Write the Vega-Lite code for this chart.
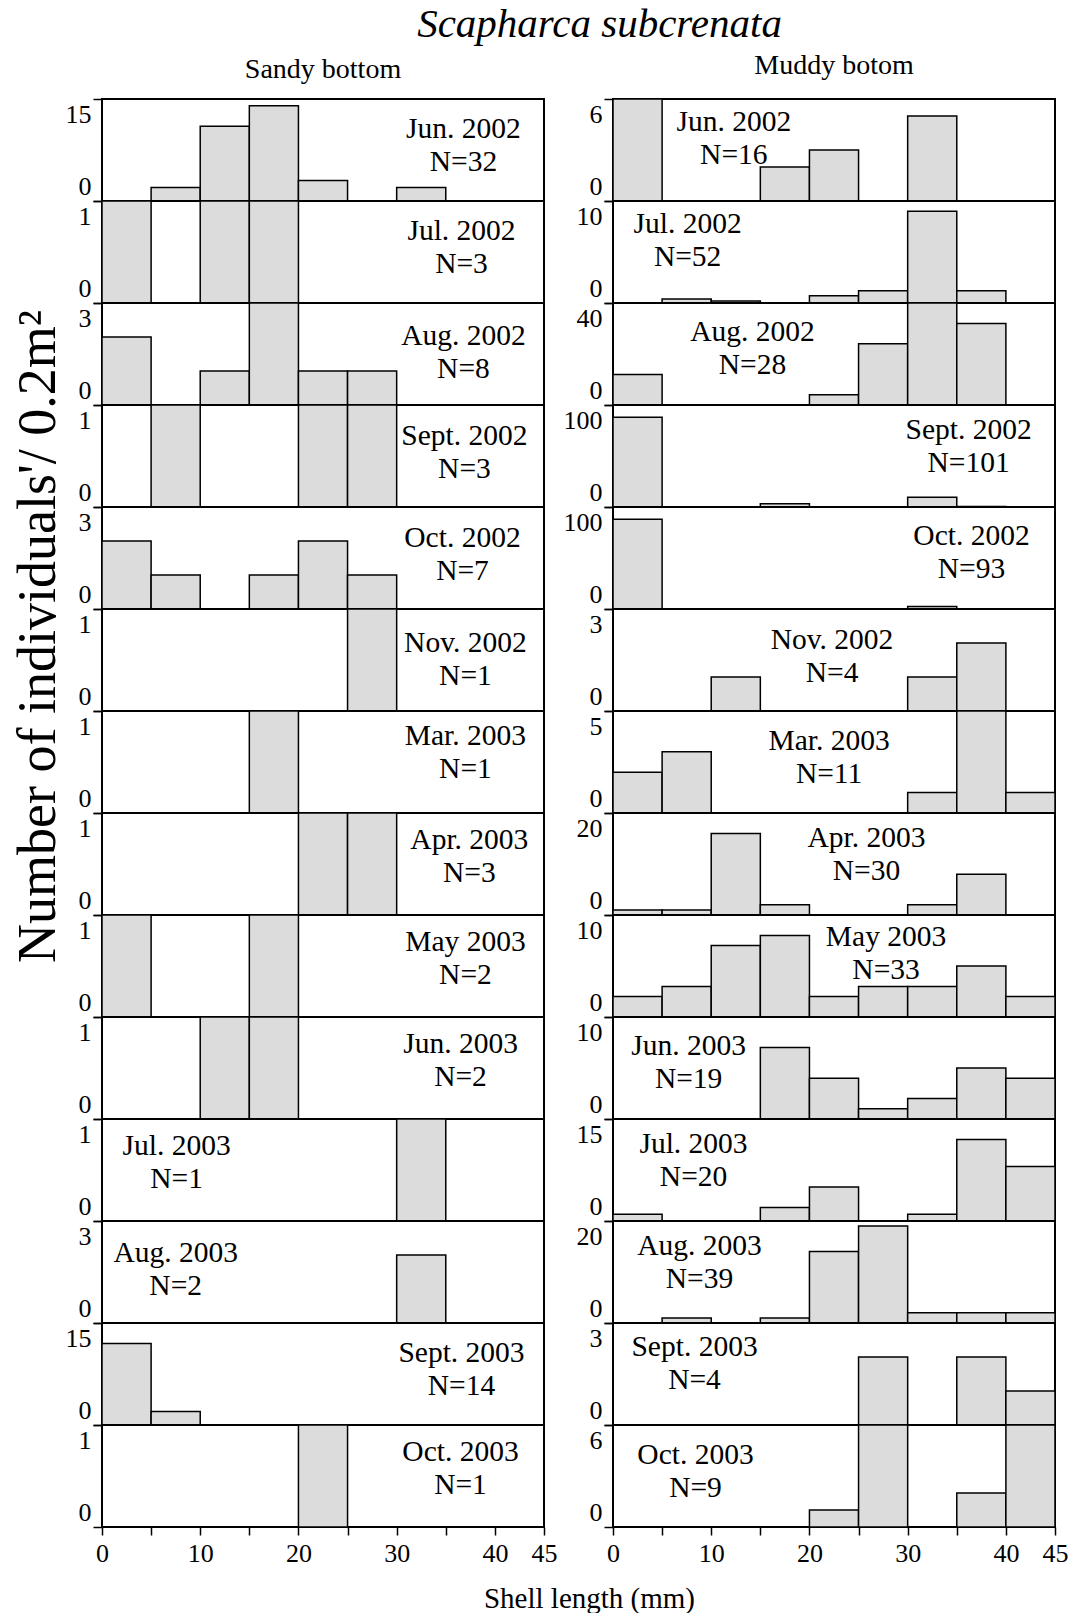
{
"$schema": "https://vega.github.io/schema/vega-lite/v6.json",
"padding": {"left": 9, "top": 4, "right": 5, "bottom": 0},
"title": {"text": "Scapharca subcrenata", "font": "Liberation Serif", "fontStyle": "italic", "fontWeight": "normal", "fontSize": 41, "color": "black", "frame": "bounds", "anchor": "middle", "offset": 5, "dx": 60},
"datasets": {
"bars": [
{"c":"Sandy","m":"Jun. 2002","s":5,"e":10,"v":2},{"c":"Sandy","m":"Jun. 2002","s":10,"e":15,"v":11},{"c":"Sandy","m":"Jun. 2002","s":15,"e":20,"v":14},{"c":"Sandy","m":"Jun. 2002","s":20,"e":25,"v":3},{"c":"Sandy","m":"Jun. 2002","s":30,"e":35,"v":2},
{"c":"Sandy","m":"Jul. 2002","s":0,"e":5,"v":1},{"c":"Sandy","m":"Jul. 2002","s":10,"e":15,"v":1},{"c":"Sandy","m":"Jul. 2002","s":15,"e":20,"v":1},
{"c":"Sandy","m":"Aug. 2002","s":0,"e":5,"v":2},{"c":"Sandy","m":"Aug. 2002","s":10,"e":15,"v":1},{"c":"Sandy","m":"Aug. 2002","s":15,"e":20,"v":3},{"c":"Sandy","m":"Aug. 2002","s":20,"e":25,"v":1},{"c":"Sandy","m":"Aug. 2002","s":25,"e":30,"v":1},
{"c":"Sandy","m":"Sept. 2002","s":5,"e":10,"v":1},{"c":"Sandy","m":"Sept. 2002","s":20,"e":25,"v":1},{"c":"Sandy","m":"Sept. 2002","s":25,"e":30,"v":1},
{"c":"Sandy","m":"Oct. 2002","s":0,"e":5,"v":2},{"c":"Sandy","m":"Oct. 2002","s":5,"e":10,"v":1},{"c":"Sandy","m":"Oct. 2002","s":15,"e":20,"v":1},{"c":"Sandy","m":"Oct. 2002","s":20,"e":25,"v":2},{"c":"Sandy","m":"Oct. 2002","s":25,"e":30,"v":1},
{"c":"Sandy","m":"Nov. 2002","s":25,"e":30,"v":1},
{"c":"Sandy","m":"Mar. 2003","s":15,"e":20,"v":1},
{"c":"Sandy","m":"Apr. 2003","s":20,"e":25,"v":1},{"c":"Sandy","m":"Apr. 2003","s":25,"e":30,"v":1},
{"c":"Sandy","m":"May 2003","s":0,"e":5,"v":1},{"c":"Sandy","m":"May 2003","s":15,"e":20,"v":1},
{"c":"Sandy","m":"Jun. 2003","s":10,"e":15,"v":1},{"c":"Sandy","m":"Jun. 2003","s":15,"e":20,"v":1},
{"c":"Sandy","m":"Jul. 2003","s":30,"e":35,"v":1},
{"c":"Sandy","m":"Aug. 2003","s":30,"e":35,"v":2},
{"c":"Sandy","m":"Sept. 2003","s":0,"e":5,"v":12},{"c":"Sandy","m":"Sept. 2003","s":5,"e":10,"v":2},
{"c":"Sandy","m":"Oct. 2003","s":20,"e":25,"v":1},
{"c":"Muddy","m":"Jun. 2002","s":0,"e":5,"v":6},{"c":"Muddy","m":"Jun. 2002","s":15,"e":20,"v":2},{"c":"Muddy","m":"Jun. 2002","s":20,"e":25,"v":3},{"c":"Muddy","m":"Jun. 2002","s":30,"e":35,"v":5},
{"c":"Muddy","m":"Jul. 2002","s":5,"e":10,"v":0.4},{"c":"Muddy","m":"Jul. 2002","s":10,"e":15,"v":0.2},{"c":"Muddy","m":"Jul. 2002","s":20,"e":25,"v":0.7},{"c":"Muddy","m":"Jul. 2002","s":25,"e":30,"v":1.2},{"c":"Muddy","m":"Jul. 2002","s":30,"e":35,"v":9},{"c":"Muddy","m":"Jul. 2002","s":35,"e":40,"v":1.2},
{"c":"Muddy","m":"Aug. 2002","s":0,"e":5,"v":12},{"c":"Muddy","m":"Aug. 2002","s":20,"e":25,"v":4},{"c":"Muddy","m":"Aug. 2002","s":25,"e":30,"v":24},{"c":"Muddy","m":"Aug. 2002","s":30,"e":35,"v":40},{"c":"Muddy","m":"Aug. 2002","s":35,"e":40,"v":32},
{"c":"Muddy","m":"Sept. 2002","s":0,"e":5,"v":88},{"c":"Muddy","m":"Sept. 2002","s":15,"e":20,"v":3.2},{"c":"Muddy","m":"Sept. 2002","s":30,"e":35,"v":9.5},{"c":"Muddy","m":"Sept. 2002","s":35,"e":40,"v":0.5},
{"c":"Muddy","m":"Oct. 2002","s":0,"e":5,"v":88},{"c":"Muddy","m":"Oct. 2002","s":30,"e":35,"v":2.5},
{"c":"Muddy","m":"Nov. 2002","s":10,"e":15,"v":1},{"c":"Muddy","m":"Nov. 2002","s":30,"e":35,"v":1},{"c":"Muddy","m":"Nov. 2002","s":35,"e":40,"v":2},
{"c":"Muddy","m":"Mar. 2003","s":0,"e":5,"v":2},{"c":"Muddy","m":"Mar. 2003","s":5,"e":10,"v":3},{"c":"Muddy","m":"Mar. 2003","s":30,"e":35,"v":1},{"c":"Muddy","m":"Mar. 2003","s":35,"e":40,"v":5},{"c":"Muddy","m":"Mar. 2003","s":40,"e":45,"v":1},
{"c":"Muddy","m":"Apr. 2003","s":0,"e":5,"v":1},{"c":"Muddy","m":"Apr. 2003","s":5,"e":10,"v":1},{"c":"Muddy","m":"Apr. 2003","s":10,"e":15,"v":16},{"c":"Muddy","m":"Apr. 2003","s":15,"e":20,"v":2},{"c":"Muddy","m":"Apr. 2003","s":30,"e":35,"v":2},{"c":"Muddy","m":"Apr. 2003","s":35,"e":40,"v":8},
{"c":"Muddy","m":"May 2003","s":0,"e":5,"v":2},{"c":"Muddy","m":"May 2003","s":5,"e":10,"v":3},{"c":"Muddy","m":"May 2003","s":10,"e":15,"v":7},{"c":"Muddy","m":"May 2003","s":15,"e":20,"v":8},{"c":"Muddy","m":"May 2003","s":20,"e":25,"v":2},{"c":"Muddy","m":"May 2003","s":25,"e":30,"v":3},{"c":"Muddy","m":"May 2003","s":30,"e":35,"v":3},{"c":"Muddy","m":"May 2003","s":35,"e":40,"v":5},{"c":"Muddy","m":"May 2003","s":40,"e":45,"v":2},
{"c":"Muddy","m":"Jun. 2003","s":15,"e":20,"v":7},{"c":"Muddy","m":"Jun. 2003","s":20,"e":25,"v":4},{"c":"Muddy","m":"Jun. 2003","s":25,"e":30,"v":1},{"c":"Muddy","m":"Jun. 2003","s":30,"e":35,"v":2},{"c":"Muddy","m":"Jun. 2003","s":35,"e":40,"v":5},{"c":"Muddy","m":"Jun. 2003","s":40,"e":45,"v":4},
{"c":"Muddy","m":"Jul. 2003","s":0,"e":5,"v":1},{"c":"Muddy","m":"Jul. 2003","s":15,"e":20,"v":2},{"c":"Muddy","m":"Jul. 2003","s":20,"e":25,"v":5},{"c":"Muddy","m":"Jul. 2003","s":30,"e":35,"v":1},{"c":"Muddy","m":"Jul. 2003","s":35,"e":40,"v":12},{"c":"Muddy","m":"Jul. 2003","s":40,"e":45,"v":8},
{"c":"Muddy","m":"Aug. 2003","s":5,"e":10,"v":1},{"c":"Muddy","m":"Aug. 2003","s":15,"e":20,"v":1},{"c":"Muddy","m":"Aug. 2003","s":20,"e":25,"v":14},{"c":"Muddy","m":"Aug. 2003","s":25,"e":30,"v":19},{"c":"Muddy","m":"Aug. 2003","s":30,"e":35,"v":2},{"c":"Muddy","m":"Aug. 2003","s":35,"e":40,"v":2},{"c":"Muddy","m":"Aug. 2003","s":40,"e":45,"v":2},
{"c":"Muddy","m":"Sept. 2003","s":25,"e":30,"v":2},{"c":"Muddy","m":"Sept. 2003","s":35,"e":40,"v":2},{"c":"Muddy","m":"Sept. 2003","s":40,"e":45,"v":1},
{"c":"Muddy","m":"Oct. 2003","s":20,"e":25,"v":1},{"c":"Muddy","m":"Oct. 2003","s":25,"e":30,"v":6},{"c":"Muddy","m":"Oct. 2003","s":35,"e":40,"v":2},{"c":"Muddy","m":"Oct. 2003","s":40,"e":45,"v":6}
],
"labels": [
{"c":"Sandy","m":"Jun. 2002","t":["Jun. 2002","N=32"]},{"c":"Sandy","m":"Jul. 2002","t":["Jul. 2002","N=3"]},{"c":"Sandy","m":"Aug. 2002","t":["Aug. 2002","N=8"]},{"c":"Sandy","m":"Sept. 2002","t":["Sept. 2002","N=3"]},{"c":"Sandy","m":"Oct. 2002","t":["Oct. 2002","N=7"]},{"c":"Sandy","m":"Nov. 2002","t":["Nov. 2002","N=1"]},{"c":"Sandy","m":"Mar. 2003","t":["Mar. 2003","N=1"]},{"c":"Sandy","m":"Apr. 2003","t":["Apr. 2003","N=3"]},{"c":"Sandy","m":"May 2003","t":["May 2003","N=2"]},{"c":"Sandy","m":"Jun. 2003","t":["Jun. 2003","N=2"]},{"c":"Sandy","m":"Jul. 2003","t":["Jul. 2003","N=1"]},{"c":"Sandy","m":"Aug. 2003","t":["Aug. 2003","N=2"]},{"c":"Sandy","m":"Sept. 2003","t":["Sept. 2003","N=14"]},{"c":"Sandy","m":"Oct. 2003","t":["Oct. 2003","N=1"]},
{"c":"Muddy","m":"Jun. 2002","t":["Jun. 2002","N=16"]},{"c":"Muddy","m":"Jul. 2002","t":["Jul. 2002","N=52"]},{"c":"Muddy","m":"Aug. 2002","t":["Aug. 2002","N=28"]},{"c":"Muddy","m":"Sept. 2002","t":["Sept. 2002","N=101"]},{"c":"Muddy","m":"Oct. 2002","t":["Oct. 2002","N=93"]},{"c":"Muddy","m":"Nov. 2002","t":["Nov. 2002","N=4"]},{"c":"Muddy","m":"Mar. 2003","t":["Mar. 2003","N=11"]},{"c":"Muddy","m":"Apr. 2003","t":["Apr. 2003","N=30"]},{"c":"Muddy","m":"May 2003","t":["May 2003","N=33"]},{"c":"Muddy","m":"Jun. 2003","t":["Jun. 2003","N=19"]},{"c":"Muddy","m":"Jul. 2003","t":["Jul. 2003","N=20"]},{"c":"Muddy","m":"Aug. 2003","t":["Aug. 2003","N=39"]},{"c":"Muddy","m":"Sept. 2003","t":["Sept. 2003","N=4"]},{"c":"Muddy","m":"Oct. 2003","t":["Oct. 2003","N=9"]}
]
},
"columns": 2,
"spacing": {"row": 0, "column": 69},
"bounds": "flush",
"concat": [
{"title": {"text": "Sandy bottom", "font": "Liberation Serif", "fontSize": 28, "fontWeight": "normal", "color": "black", "offset": 14}, "width": 442, "height": 102, "layer": [
 {"data": {"name": "bars"}, "transform": [{"filter": "datum.c=='Sandy'&&datum.m=='Jun. 2002'"}], "mark": "rect", "encoding": {"x": {"field": "s", "type": "quantitative", "scale": {"domain": [0,45], "nice": false, "zero": false}, "axis": null}, "x2": {"field": "e"}, "y": {"field": "v", "type": "quantitative", "scale": {"domain": [0,15], "nice": false}, "axis": {"values": [0,15], "format": "d", "title": null}}, "y2": {"datum": 0}}},
 {"data": {"name": "labels"}, "transform": [{"filter": "datum.c=='Sandy'&&datum.m=='Jun. 2002'"}], "mark": "text", "encoding": {"x": {"datum": 36.8}, "y": {"datum": 8.16}, "text": {"field": "t"}}}]},
{"title": {"text": "Muddy botom", "font": "Liberation Serif", "fontSize": 28, "fontWeight": "normal", "color": "black", "offset": 18}, "width": 442, "height": 102, "layer": [
 {"data": {"name": "bars"}, "transform": [{"filter": "datum.c=='Muddy'&&datum.m=='Jun. 2002'"}], "mark": "rect", "encoding": {"x": {"field": "s", "type": "quantitative", "scale": {"domain": [0,45], "nice": false, "zero": false}, "axis": null}, "x2": {"field": "e"}, "y": {"field": "v", "type": "quantitative", "scale": {"domain": [0,6], "nice": false}, "axis": {"values": [0,6], "format": "d", "title": null}}, "y2": {"datum": 0}}},
 {"data": {"name": "labels"}, "transform": [{"filter": "datum.c=='Muddy'&&datum.m=='Jun. 2002'"}], "mark": "text", "encoding": {"x": {"datum": 12.3}, "y": {"datum": 3.66}, "text": {"field": "t"}}}]},
{"width": 442, "height": 102, "layer": [
 {"data": {"name": "bars"}, "transform": [{"filter": "datum.c=='Sandy'&&datum.m=='Jul. 2002'"}], "mark": "rect", "encoding": {"x": {"field": "s", "type": "quantitative", "scale": {"domain": [0,45], "nice": false, "zero": false}, "axis": null}, "x2": {"field": "e"}, "y": {"field": "v", "type": "quantitative", "scale": {"domain": [0,1], "nice": false}, "axis": {"values": [0,1], "format": "d", "title": null}}, "y2": {"datum": 0}}},
 {"data": {"name": "labels"}, "transform": [{"filter": "datum.c=='Sandy'&&datum.m=='Jul. 2002'"}], "mark": "text", "encoding": {"x": {"datum": 36.6}, "y": {"datum": 0.543}, "text": {"field": "t"}}}]},
{"width": 442, "height": 102, "layer": [
 {"data": {"name": "bars"}, "transform": [{"filter": "datum.c=='Muddy'&&datum.m=='Jul. 2002'"}], "mark": "rect", "encoding": {"x": {"field": "s", "type": "quantitative", "scale": {"domain": [0,45], "nice": false, "zero": false}, "axis": null}, "x2": {"field": "e"}, "y": {"field": "v", "type": "quantitative", "scale": {"domain": [0,10], "nice": false}, "axis": {"values": [0,10], "format": "d", "title": null}}, "y2": {"datum": 0}}},
 {"data": {"name": "labels"}, "transform": [{"filter": "datum.c=='Muddy'&&datum.m=='Jul. 2002'"}], "mark": "text", "encoding": {"x": {"datum": 7.6}, "y": {"datum": 6.16}, "text": {"field": "t"}}}]},
{"width": 442, "height": 102, "layer": [
 {"data": {"name": "bars"}, "transform": [{"filter": "datum.c=='Sandy'&&datum.m=='Aug. 2002'"}], "mark": "rect", "encoding": {"x": {"field": "s", "type": "quantitative", "scale": {"domain": [0,45], "nice": false, "zero": false}, "axis": null}, "x2": {"field": "e"}, "y": {"field": "v", "type": "quantitative", "scale": {"domain": [0,3], "nice": false}, "axis": {"values": [0,3], "format": "d", "title": null}}, "y2": {"datum": 0}}},
 {"data": {"name": "labels"}, "transform": [{"filter": "datum.c=='Sandy'&&datum.m=='Aug. 2002'"}], "mark": "text", "encoding": {"x": {"datum": 36.8}, "y": {"datum": 1.53}, "text": {"field": "t"}}}]},
{"width": 442, "height": 102, "layer": [
 {"data": {"name": "bars"}, "transform": [{"filter": "datum.c=='Muddy'&&datum.m=='Aug. 2002'"}], "mark": "rect", "encoding": {"x": {"field": "s", "type": "quantitative", "scale": {"domain": [0,45], "nice": false, "zero": false}, "axis": null}, "x2": {"field": "e"}, "y": {"field": "v", "type": "quantitative", "scale": {"domain": [0,40], "nice": false}, "axis": {"values": [0,40], "format": "d", "title": null}}, "y2": {"datum": 0}}},
 {"data": {"name": "labels"}, "transform": [{"filter": "datum.c=='Muddy'&&datum.m=='Aug. 2002'"}], "mark": "text", "encoding": {"x": {"datum": 14.2}, "y": {"datum": 22.1}, "text": {"field": "t"}}}]},
{"width": 442, "height": 102, "layer": [
 {"data": {"name": "bars"}, "transform": [{"filter": "datum.c=='Sandy'&&datum.m=='Sept. 2002'"}], "mark": "rect", "encoding": {"x": {"field": "s", "type": "quantitative", "scale": {"domain": [0,45], "nice": false, "zero": false}, "axis": null}, "x2": {"field": "e"}, "y": {"field": "v", "type": "quantitative", "scale": {"domain": [0,1], "nice": false}, "axis": {"values": [0,1], "format": "d", "title": null}}, "y2": {"datum": 0}}},
 {"data": {"name": "labels"}, "transform": [{"filter": "datum.c=='Sandy'&&datum.m=='Sept. 2002'"}], "mark": "text", "encoding": {"x": {"datum": 36.9}, "y": {"datum": 0.534}, "text": {"field": "t"}}}]},
{"width": 442, "height": 102, "layer": [
 {"data": {"name": "bars"}, "transform": [{"filter": "datum.c=='Muddy'&&datum.m=='Sept. 2002'"}], "mark": "rect", "encoding": {"x": {"field": "s", "type": "quantitative", "scale": {"domain": [0,45], "nice": false, "zero": false}, "axis": null}, "x2": {"field": "e"}, "y": {"field": "v", "type": "quantitative", "scale": {"domain": [0,100], "nice": false}, "axis": {"values": [0,100], "format": "d", "title": null}}, "y2": {"datum": 0}}},
 {"data": {"name": "labels"}, "transform": [{"filter": "datum.c=='Muddy'&&datum.m=='Sept. 2002'"}], "mark": "text", "encoding": {"x": {"datum": 36.2}, "y": {"datum": 59.2}, "text": {"field": "t"}}}]},
{"width": 442, "height": 102, "layer": [
 {"data": {"name": "bars"}, "transform": [{"filter": "datum.c=='Sandy'&&datum.m=='Oct. 2002'"}], "mark": "rect", "encoding": {"x": {"field": "s", "type": "quantitative", "scale": {"domain": [0,45], "nice": false, "zero": false}, "axis": null}, "x2": {"field": "e"}, "y": {"field": "v", "type": "quantitative", "scale": {"domain": [0,3], "nice": false}, "axis": {"values": [0,3], "format": "d", "title": null}}, "y2": {"datum": 0}}},
 {"data": {"name": "labels"}, "transform": [{"filter": "datum.c=='Sandy'&&datum.m=='Oct. 2002'"}], "mark": "text", "encoding": {"x": {"datum": 36.7}, "y": {"datum": 1.6}, "text": {"field": "t"}}}]},
{"width": 442, "height": 102, "layer": [
 {"data": {"name": "bars"}, "transform": [{"filter": "datum.c=='Muddy'&&datum.m=='Oct. 2002'"}], "mark": "rect", "encoding": {"x": {"field": "s", "type": "quantitative", "scale": {"domain": [0,45], "nice": false, "zero": false}, "axis": null}, "x2": {"field": "e"}, "y": {"field": "v", "type": "quantitative", "scale": {"domain": [0,100], "nice": false}, "axis": {"values": [0,100], "format": "d", "title": null}}, "y2": {"datum": 0}}},
 {"data": {"name": "labels"}, "transform": [{"filter": "datum.c=='Muddy'&&datum.m=='Oct. 2002'"}], "mark": "text", "encoding": {"x": {"datum": 36.5}, "y": {"datum": 55}, "text": {"field": "t"}}}]},
{"width": 442, "height": 102, "layer": [
 {"data": {"name": "bars"}, "transform": [{"filter": "datum.c=='Sandy'&&datum.m=='Nov. 2002'"}], "mark": "rect", "encoding": {"x": {"field": "s", "type": "quantitative", "scale": {"domain": [0,45], "nice": false, "zero": false}, "axis": null}, "x2": {"field": "e"}, "y": {"field": "v", "type": "quantitative", "scale": {"domain": [0,1], "nice": false}, "axis": {"values": [0,1], "format": "d", "title": "Number of individuals'/ 0.2m²", "titleFontSize": 54, "titleAngle": 270, "titleAlign": "center", "titleBaseline": "middle", "titleX": -64, "titleY": 27}}, "y2": {"datum": 0}}},
 {"data": {"name": "labels"}, "transform": [{"filter": "datum.c=='Sandy'&&datum.m=='Nov. 2002'"}], "mark": "text", "encoding": {"x": {"datum": 37}, "y": {"datum": 0.505}, "text": {"field": "t"}}}]},
{"width": 442, "height": 102, "layer": [
 {"data": {"name": "bars"}, "transform": [{"filter": "datum.c=='Muddy'&&datum.m=='Nov. 2002'"}], "mark": "rect", "encoding": {"x": {"field": "s", "type": "quantitative", "scale": {"domain": [0,45], "nice": false, "zero": false}, "axis": null}, "x2": {"field": "e"}, "y": {"field": "v", "type": "quantitative", "scale": {"domain": [0,3], "nice": false}, "axis": {"values": [0,3], "format": "d", "title": null}}, "y2": {"datum": 0}}},
 {"data": {"name": "labels"}, "transform": [{"filter": "datum.c=='Muddy'&&datum.m=='Nov. 2002'"}], "mark": "text", "encoding": {"x": {"datum": 22.3}, "y": {"datum": 1.6}, "text": {"field": "t"}}}]},
{"width": 442, "height": 102, "layer": [
 {"data": {"name": "bars"}, "transform": [{"filter": "datum.c=='Sandy'&&datum.m=='Mar. 2003'"}], "mark": "rect", "encoding": {"x": {"field": "s", "type": "quantitative", "scale": {"domain": [0,45], "nice": false, "zero": false}, "axis": null}, "x2": {"field": "e"}, "y": {"field": "v", "type": "quantitative", "scale": {"domain": [0,1], "nice": false}, "axis": {"values": [0,1], "format": "d", "title": null}}, "y2": {"datum": 0}}},
 {"data": {"name": "labels"}, "transform": [{"filter": "datum.c=='Sandy'&&datum.m=='Mar. 2003'"}], "mark": "text", "encoding": {"x": {"datum": 37}, "y": {"datum": 0.593}, "text": {"field": "t"}}}]},
{"width": 442, "height": 102, "layer": [
 {"data": {"name": "bars"}, "transform": [{"filter": "datum.c=='Muddy'&&datum.m=='Mar. 2003'"}], "mark": "rect", "encoding": {"x": {"field": "s", "type": "quantitative", "scale": {"domain": [0,45], "nice": false, "zero": false}, "axis": null}, "x2": {"field": "e"}, "y": {"field": "v", "type": "quantitative", "scale": {"domain": [0,5], "nice": false}, "axis": {"values": [0,5], "format": "d", "title": null}}, "y2": {"datum": 0}}},
 {"data": {"name": "labels"}, "transform": [{"filter": "datum.c=='Muddy'&&datum.m=='Mar. 2003'"}], "mark": "text", "encoding": {"x": {"datum": 22.0}, "y": {"datum": 2.71}, "text": {"field": "t"}}}]},
{"width": 442, "height": 102, "layer": [
 {"data": {"name": "bars"}, "transform": [{"filter": "datum.c=='Sandy'&&datum.m=='Apr. 2003'"}], "mark": "rect", "encoding": {"x": {"field": "s", "type": "quantitative", "scale": {"domain": [0,45], "nice": false, "zero": false}, "axis": null}, "x2": {"field": "e"}, "y": {"field": "v", "type": "quantitative", "scale": {"domain": [0,1], "nice": false}, "axis": {"values": [0,1], "format": "d", "title": null}}, "y2": {"datum": 0}}},
 {"data": {"name": "labels"}, "transform": [{"filter": "datum.c=='Sandy'&&datum.m=='Apr. 2003'"}], "mark": "text", "encoding": {"x": {"datum": 37.4}, "y": {"datum": 0.572}, "text": {"field": "t"}}}]},
{"width": 442, "height": 102, "layer": [
 {"data": {"name": "bars"}, "transform": [{"filter": "datum.c=='Muddy'&&datum.m=='Apr. 2003'"}], "mark": "rect", "encoding": {"x": {"field": "s", "type": "quantitative", "scale": {"domain": [0,45], "nice": false, "zero": false}, "axis": null}, "x2": {"field": "e"}, "y": {"field": "v", "type": "quantitative", "scale": {"domain": [0,20], "nice": false}, "axis": {"values": [0,20], "format": "d", "title": null}}, "y2": {"datum": 0}}},
 {"data": {"name": "labels"}, "transform": [{"filter": "datum.c=='Muddy'&&datum.m=='Apr. 2003'"}], "mark": "text", "encoding": {"x": {"datum": 25.8}, "y": {"datum": 11.8}, "text": {"field": "t"}}}]},
{"width": 442, "height": 102, "layer": [
 {"data": {"name": "bars"}, "transform": [{"filter": "datum.c=='Sandy'&&datum.m=='May 2003'"}], "mark": "rect", "encoding": {"x": {"field": "s", "type": "quantitative", "scale": {"domain": [0,45], "nice": false, "zero": false}, "axis": null}, "x2": {"field": "e"}, "y": {"field": "v", "type": "quantitative", "scale": {"domain": [0,1], "nice": false}, "axis": {"values": [0,1], "format": "d", "title": null}}, "y2": {"datum": 0}}},
 {"data": {"name": "labels"}, "transform": [{"filter": "datum.c=='Sandy'&&datum.m=='May 2003'"}], "mark": "text", "encoding": {"x": {"datum": 37}, "y": {"datum": 0.574}, "text": {"field": "t"}}}]},
{"width": 442, "height": 102, "layer": [
 {"data": {"name": "bars"}, "transform": [{"filter": "datum.c=='Muddy'&&datum.m=='May 2003'"}], "mark": "rect", "encoding": {"x": {"field": "s", "type": "quantitative", "scale": {"domain": [0,45], "nice": false, "zero": false}, "axis": null}, "x2": {"field": "e"}, "y": {"field": "v", "type": "quantitative", "scale": {"domain": [0,10], "nice": false}, "axis": {"values": [0,10], "format": "d", "title": null}}, "y2": {"datum": 0}}},
 {"data": {"name": "labels"}, "transform": [{"filter": "datum.c=='Muddy'&&datum.m=='May 2003'"}], "mark": "text", "encoding": {"x": {"datum": 27.8}, "y": {"datum": 6.22}, "text": {"field": "t"}}}]},
{"width": 442, "height": 102, "layer": [
 {"data": {"name": "bars"}, "transform": [{"filter": "datum.c=='Sandy'&&datum.m=='Jun. 2003'"}], "mark": "rect", "encoding": {"x": {"field": "s", "type": "quantitative", "scale": {"domain": [0,45], "nice": false, "zero": false}, "axis": null}, "x2": {"field": "e"}, "y": {"field": "v", "type": "quantitative", "scale": {"domain": [0,1], "nice": false}, "axis": {"values": [0,1], "format": "d", "title": null}}, "y2": {"datum": 0}}},
 {"data": {"name": "labels"}, "transform": [{"filter": "datum.c=='Sandy'&&datum.m=='Jun. 2003'"}], "mark": "text", "encoding": {"x": {"datum": 36.5}, "y": {"datum": 0.569}, "text": {"field": "t"}}}]},
{"width": 442, "height": 102, "layer": [
 {"data": {"name": "bars"}, "transform": [{"filter": "datum.c=='Muddy'&&datum.m=='Jun. 2003'"}], "mark": "rect", "encoding": {"x": {"field": "s", "type": "quantitative", "scale": {"domain": [0,45], "nice": false, "zero": false}, "axis": null}, "x2": {"field": "e"}, "y": {"field": "v", "type": "quantitative", "scale": {"domain": [0,10], "nice": false}, "axis": {"values": [0,10], "format": "d", "title": null}}, "y2": {"datum": 0}}},
 {"data": {"name": "labels"}, "transform": [{"filter": "datum.c=='Muddy'&&datum.m=='Jun. 2003'"}], "mark": "text", "encoding": {"x": {"datum": 7.7}, "y": {"datum": 5.55}, "text": {"field": "t"}}}]},
{"width": 442, "height": 102, "layer": [
 {"data": {"name": "bars"}, "transform": [{"filter": "datum.c=='Sandy'&&datum.m=='Jul. 2003'"}], "mark": "rect", "encoding": {"x": {"field": "s", "type": "quantitative", "scale": {"domain": [0,45], "nice": false, "zero": false}, "axis": null}, "x2": {"field": "e"}, "y": {"field": "v", "type": "quantitative", "scale": {"domain": [0,1], "nice": false}, "axis": {"values": [0,1], "format": "d", "title": null}}, "y2": {"datum": 0}}},
 {"data": {"name": "labels"}, "transform": [{"filter": "datum.c=='Sandy'&&datum.m=='Jul. 2003'"}], "mark": "text", "encoding": {"x": {"datum": 7.6}, "y": {"datum": 0.572}, "text": {"field": "t"}}}]},
{"width": 442, "height": 102, "layer": [
 {"data": {"name": "bars"}, "transform": [{"filter": "datum.c=='Muddy'&&datum.m=='Jul. 2003'"}], "mark": "rect", "encoding": {"x": {"field": "s", "type": "quantitative", "scale": {"domain": [0,45], "nice": false, "zero": false}, "axis": null}, "x2": {"field": "e"}, "y": {"field": "v", "type": "quantitative", "scale": {"domain": [0,15], "nice": false}, "axis": {"values": [0,15], "format": "d", "title": null}}, "y2": {"datum": 0}}},
 {"data": {"name": "labels"}, "transform": [{"filter": "datum.c=='Muddy'&&datum.m=='Jul. 2003'"}], "mark": "text", "encoding": {"x": {"datum": 8.2}, "y": {"datum": 8.88}, "text": {"field": "t"}}}]},
{"width": 442, "height": 102, "layer": [
 {"data": {"name": "bars"}, "transform": [{"filter": "datum.c=='Sandy'&&datum.m=='Aug. 2003'"}], "mark": "rect", "encoding": {"x": {"field": "s", "type": "quantitative", "scale": {"domain": [0,45], "nice": false, "zero": false}, "axis": null}, "x2": {"field": "e"}, "y": {"field": "v", "type": "quantitative", "scale": {"domain": [0,3], "nice": false}, "axis": {"values": [0,3], "format": "d", "title": null}}, "y2": {"datum": 0}}},
 {"data": {"name": "labels"}, "transform": [{"filter": "datum.c=='Sandy'&&datum.m=='Aug. 2003'"}], "mark": "text", "encoding": {"x": {"datum": 7.5}, "y": {"datum": 1.56}, "text": {"field": "t"}}}]},
{"width": 442, "height": 102, "layer": [
 {"data": {"name": "bars"}, "transform": [{"filter": "datum.c=='Muddy'&&datum.m=='Aug. 2003'"}], "mark": "rect", "encoding": {"x": {"field": "s", "type": "quantitative", "scale": {"domain": [0,45], "nice": false, "zero": false}, "axis": null}, "x2": {"field": "e"}, "y": {"field": "v", "type": "quantitative", "scale": {"domain": [0,20], "nice": false}, "axis": {"values": [0,20], "format": "d", "title": null}}, "y2": {"datum": 0}}},
 {"data": {"name": "labels"}, "transform": [{"filter": "datum.c=='Muddy'&&datum.m=='Aug. 2003'"}], "mark": "text", "encoding": {"x": {"datum": 8.8}, "y": {"datum": 11.86}, "text": {"field": "t"}}}]},
{"width": 442, "height": 102, "layer": [
 {"data": {"name": "bars"}, "transform": [{"filter": "datum.c=='Sandy'&&datum.m=='Sept. 2003'"}], "mark": "rect", "encoding": {"x": {"field": "s", "type": "quantitative", "scale": {"domain": [0,45], "nice": false, "zero": false}, "axis": null}, "x2": {"field": "e"}, "y": {"field": "v", "type": "quantitative", "scale": {"domain": [0,15], "nice": false}, "axis": {"values": [0,15], "format": "d", "title": null}}, "y2": {"datum": 0}}},
 {"data": {"name": "labels"}, "transform": [{"filter": "datum.c=='Sandy'&&datum.m=='Sept. 2003'"}], "mark": "text", "encoding": {"x": {"datum": 36.6}, "y": {"datum": 8.19}, "text": {"field": "t"}}}]},
{"width": 442, "height": 102, "layer": [
 {"data": {"name": "bars"}, "transform": [{"filter": "datum.c=='Muddy'&&datum.m=='Sept. 2003'"}], "mark": "rect", "encoding": {"x": {"field": "s", "type": "quantitative", "scale": {"domain": [0,45], "nice": false, "zero": false}, "axis": null}, "x2": {"field": "e"}, "y": {"field": "v", "type": "quantitative", "scale": {"domain": [0,3], "nice": false}, "axis": {"values": [0,3], "format": "d", "title": null}}, "y2": {"datum": 0}}},
 {"data": {"name": "labels"}, "transform": [{"filter": "datum.c=='Muddy'&&datum.m=='Sept. 2003'"}], "mark": "text", "encoding": {"x": {"datum": 8.3}, "y": {"datum": 1.8}, "text": {"field": "t"}}}]},
{"width": 442, "height": 102, "layer": [
 {"data": {"name": "bars"}, "transform": [{"filter": "datum.c=='Sandy'&&datum.m=='Oct. 2003'"}], "mark": "rect", "encoding": {"x": {"field": "s", "type": "quantitative", "scale": {"domain": [0,45], "nice": false, "zero": false}, "axis": {"values": [0,5,10,15,20,25,30,35,40,45], "labelExpr": "datum.value % 10 == 0 || datum.value == 45 ? datum.label : ''", "title": "Shell length (mm)", "titleFontSize": 29, "titleAlign": "center", "titleBaseline": "middle", "titleX": 487, "titleY": 71}}, "x2": {"field": "e"}, "y": {"field": "v", "type": "quantitative", "scale": {"domain": [0,1], "nice": false}, "axis": {"values": [0,1], "format": "d", "title": null}}, "y2": {"datum": 0}}},
 {"data": {"name": "labels"}, "transform": [{"filter": "datum.c=='Sandy'&&datum.m=='Oct. 2003'"}], "mark": "text", "encoding": {"x": {"datum": 36.5}, "y": {"datum": 0.57}, "text": {"field": "t"}}}]},
{"width": 442, "height": 102, "layer": [
 {"data": {"name": "bars"}, "transform": [{"filter": "datum.c=='Muddy'&&datum.m=='Oct. 2003'"}], "mark": "rect", "encoding": {"x": {"field": "s", "type": "quantitative", "scale": {"domain": [0,45], "nice": false, "zero": false}, "axis": {"values": [0,5,10,15,20,25,30,35,40,45], "labelExpr": "datum.value % 10 == 0 || datum.value == 45 ? datum.label : ''", "title": null}}, "x2": {"field": "e"}, "y": {"field": "v", "type": "quantitative", "scale": {"domain": [0,6], "nice": false}, "axis": {"values": [0,6], "format": "d", "title": null}}, "y2": {"datum": 0}}},
 {"data": {"name": "labels"}, "transform": [{"filter": "datum.c=='Muddy'&&datum.m=='Oct. 2003'"}], "mark": "text", "encoding": {"x": {"datum": 8.4}, "y": {"datum": 3.26}, "text": {"field": "t"}}}]}
],
"config": {
 "font": "Liberation Serif",
 "view": {"stroke": "black", "strokeWidth": 2},
 "axis": {"labelFont": "Liberation Serif", "labelColor": "black", "tickColor": "black", "tickWidth": 1.5, "titleFont": "Liberation Serif", "titleColor": "black", "titleFontWeight": "normal", "grid": false, "domain": false},
 "axisY": {"labelFontSize": 26, "labelFlush": true, "labelFlushOffset": -2, "tickSize": 9, "labelPadding": 2},
 "axisX": {"labelFontSize": 26, "labelFlush": false, "tickSize": 8, "labelPadding": 5},
 "rect": {"fill": "#dcdcdc", "stroke": "black", "strokeWidth": 1.5},
 "text": {"font": "Liberation Serif", "fontSize": 29.5, "lineHeight": 33, "align": "center", "baseline": "middle", "dy": -16.5, "fill": "black"}
}
}
